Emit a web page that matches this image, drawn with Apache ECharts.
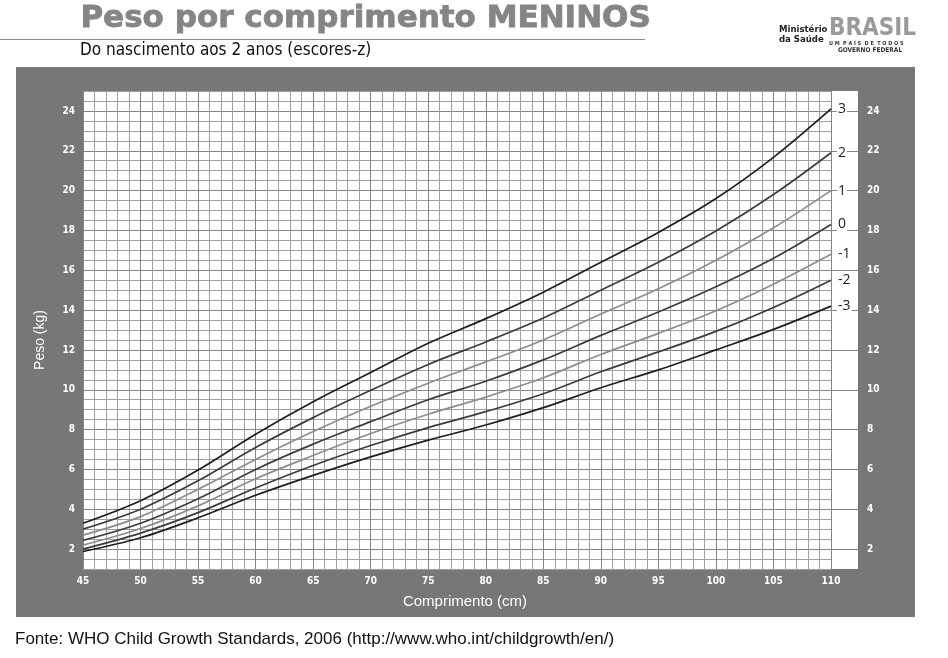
<!DOCTYPE html>
<html>
<head>
<meta charset="utf-8">
<script src="https://cdn.jsdelivr.net/npm/echarts@6/dist/echarts.min.js"></script>
<style>
html,body{margin:0;padding:0;background:#fff;}
#c{width:948px;height:658px;}
</style>
</head>
<body>
<div id="c"></div>
<script>
// Comprimento (cm)
const lengths = [45,50,55,60,65,70,75,80,85,90,95,100,105,110];
// Peso (kg) by z-score
const zP3 = [3.30,4.43,5.97,7.77,9.40,10.87,12.33,13.57,14.90,16.40,17.90,19.60,21.67,24.10];
const zP2 = [3.00,4.00,5.43,7.10,8.60,9.97,11.27,12.40,13.60,15.00,16.40,17.97,19.80,21.90];
const zP1 = [2.70,3.63,5.00,6.50,7.90,9.17,10.33,11.40,12.50,13.80,15.07,16.50,18.13,20.00];
const z0  = [2.44,3.30,4.53,6.00,7.27,8.40,9.50,10.43,11.50,12.73,13.90,15.17,16.60,18.30];
const zM1 = [2.20,3.03,4.17,5.53,6.70,7.80,8.77,9.63,10.60,11.77,12.83,13.97,15.30,16.80];
const zM2 = [2.00,2.80,3.83,5.07,6.20,7.20,8.10,8.90,9.80,10.90,11.90,12.93,14.13,15.50];
const zM3 = [1.88,2.57,3.57,4.70,5.70,6.63,7.47,8.23,9.10,10.10,11.00,12.00,13.03,14.20];
const zNames = ['3','2','1','0','-1','-2','-3'];
const xTickLabels = [45,50,55,60,65,70,75,80,85,90,95,100,105,110];
const yTickLabels = [2,4,6,8,10,12,14,16,18,20,22,24];

const seriesValues = [zP3, zP2, zP1, z0, zM1, zM2, zM3];
const lineColors = ['#1e1e1e','#3c3c3c','#8c8c8c','#3c3c3c','#8c8c8c','#3c3c3c','#1e1e1e'];

const X_MIN = 45, X_MAX = 110, Y_MIN = 1, Y_MAX = 25;

// split line color arrays (cycled in tick order)
const xSplitColors = [];
for (let v = X_MIN; v <= X_MAX; v++) xSplitColors.push(v % 5 === 0 ? '#858585' : '#a0a0a0');
const ySplitColors = [];
const yStripColors = [];
for (let v = Y_MIN; v <= Y_MAX + 1e-9; v += 0.5) {
  const even = Math.abs(v % 2) < 1e-9;
  ySplitColors.push(even ? '#858585' : '#a0a0a0');
  yStripColors.push(even ? '#858585' : 'rgba(0,0,0,0)');
}

const tickFont = { color: '#ffffff', fontSize: 10, fontWeight: 'bold', fontFamily: 'DejaVu Sans Condensed, DejaVu Sans, sans-serif' };

const chart = echarts.init(document.getElementById('c'), null, { renderer: 'canvas' });

const option = {
  animation: false,
  backgroundColor: '#ffffff',
  graphic: [
    { type: 'rect', z: -10, shape: { x: 16, y: 67, width: 899, height: 550 }, style: { fill: '#777777' } },
    { type: 'rect', z: -9, shape: { x: 83, y: 91, width: 775, height: 478 }, style: { fill: '#ffffff' } },
    { type: 'text', left: 80, top: 3, style: { text: 'Peso por comprimento MENINOS', fill: '#858585', stroke: '#858585', lineWidth: 0.8, font: 'bold 31px "DejaVu Sans", sans-serif' } },
    { type: 'rect', shape: { x: 0, y: 39, width: 645, height: 1 }, style: { fill: '#8a8a8a' } },
    { type: 'text', left: 80, top: 42, style: { text: 'Do nascimento aos 2 anos (escores-z)', fill: '#111111', font: '17px "Liberation Sans Narrow", "DejaVu Sans Condensed", sans-serif' } },
    { type: 'text', left: 15, top: 631, style: { text: 'Fonte: WHO Child Growth Standards, 2006 (http://www.who.int/childgrowth/en/)', fill: '#111111', font: '17px "Liberation Sans", Arial, sans-serif' } },
    { type: 'text', left: 779, top: 25, style: { text: 'Ministério\nda Saúde', fill: '#222222', font: 'bold 9.5px "DejaVu Sans Condensed", sans-serif', lineHeight: 10 } },
    { type: 'text', left: 829, top: 17, style: { text: 'BRASIL', fill: '#9a9a9a', font: 'bold 24px "DejaVu Sans Condensed", sans-serif' } },
    { type: 'text', left: 829, top: 41, style: { text: 'U M  P A Í S  D E  T O D O S', fill: '#333333', font: 'bold 5.5px "DejaVu Sans Condensed", sans-serif' } },
    { type: 'text', left: 838, top: 47, style: { text: 'GOVERNO FEDERAL', fill: '#333333', font: 'bold 6.5px "DejaVu Sans Condensed", sans-serif' } },
    { type: 'text', x: 40, y: 340, rotation: Math.PI / 2, style: { text: 'Peso (kg)', fill: '#ffffff', font: '14px "Liberation Sans", Arial, sans-serif', align: 'center', verticalAlign: 'middle' } },
    { type: 'text', x: 465, y: 602, style: { text: 'Comprimento (cm)', fill: '#ffffff', font: '15px "Liberation Sans", Arial, sans-serif', align: 'center', verticalAlign: 'middle' } }
  ],
  grid: [
    { left: 83, top: 91, width: 748, height: 478, show: false },
    { left: 831, top: 91, width: 27, height: 478, show: false }
  ],
  xAxis: [
    {
      gridIndex: 0, type: 'value', min: X_MIN, max: X_MAX, interval: 1,
      axisLine: { show: false }, axisTick: { show: false },
      axisLabel: Object.assign({ margin: 7, formatter: v => (xTickLabels.indexOf(v) >= 0 ? String(v) : '') }, tickFont),
      splitLine: { show: true, lineStyle: { color: xSplitColors, width: 1 } }
    },
    {
      gridIndex: 1, type: 'value', min: 0, max: 1, show: false
    }
  ],
  yAxis: [
    {
      gridIndex: 0, type: 'value', min: Y_MIN, max: Y_MAX, interval: 0.5,
      axisLine: { show: false }, axisTick: { show: false },
      axisLabel: Object.assign({ margin: 8, formatter: v => (yTickLabels.indexOf(v) >= 0 ? String(v) : '') }, tickFont),
      splitLine: { show: true, lineStyle: { color: ySplitColors, width: 1 } }
    },
    {
      gridIndex: 1, type: 'value', min: Y_MIN, max: Y_MAX, interval: 0.5, position: 'right',
      axisLine: { show: false }, axisTick: { show: false },
      axisLabel: Object.assign({ margin: 9, formatter: v => (yTickLabels.indexOf(v) >= 0 ? String(v) : '') }, tickFont),
      splitLine: { show: true, lineStyle: { color: yStripColors, width: 1 } }
    }
  ],
  series: seriesValues.map((vals, i) => ({
    name: zNames[i],
    type: 'line',
    xAxisIndex: 0, yAxisIndex: 0,
    data: lengths.map((x, j) => [x, vals[j]]),
    smooth: 0.35,
    symbol: 'none',
    clip: false,
    lineStyle: { color: lineColors[i], width: 1.7 },
    z: 10,
    endLabel: {
      show: true,
      formatter: zNames[i],
      distance: 6,
      color: '#1e1e1e',
      fontSize: 14,
      fontFamily: 'Open Sans, DejaVu Sans, sans-serif',
      backgroundColor: '#ffffff',
      padding: [0, 1]
    }
  }))
};

chart.setOption(option);
</script>
</body>
</html>
